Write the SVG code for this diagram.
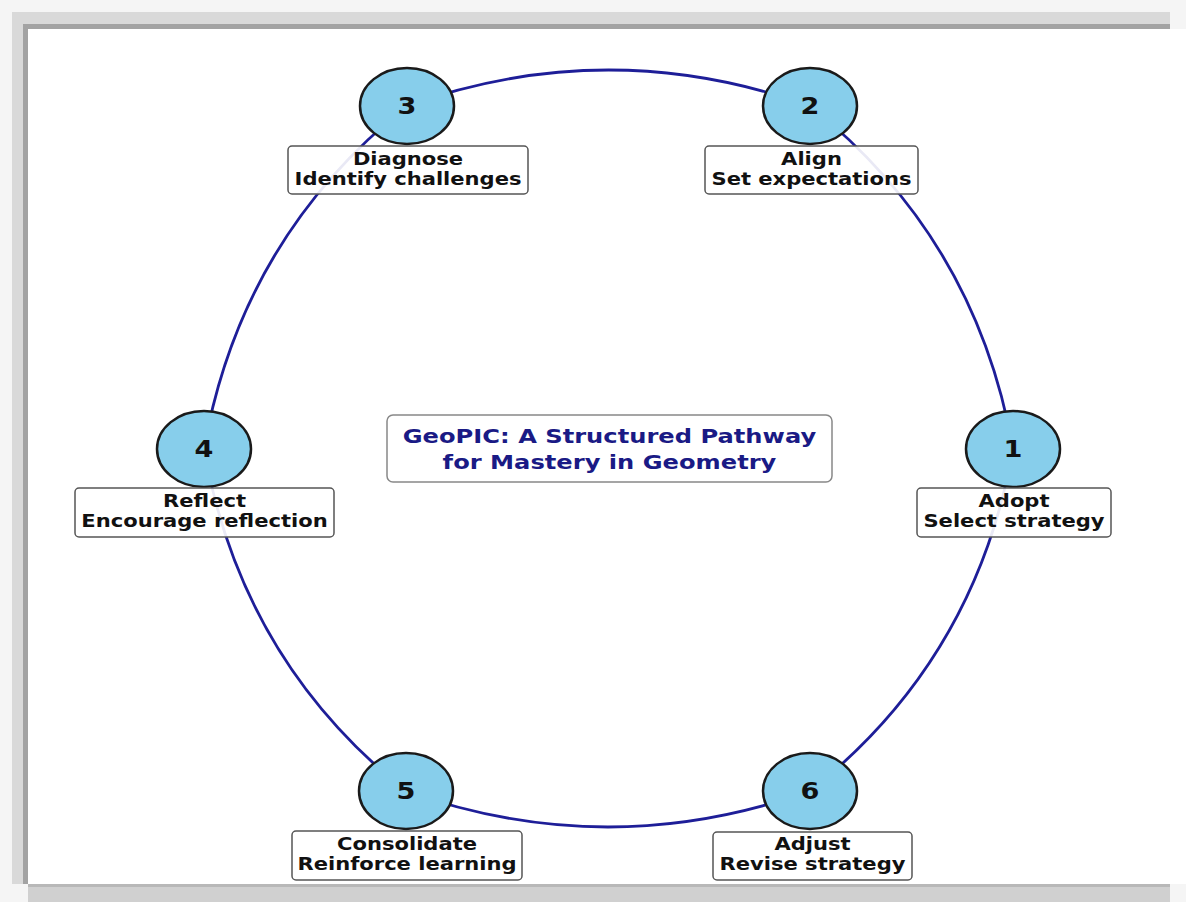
<svg xmlns="http://www.w3.org/2000/svg" width="1186" height="902" viewBox="0 0 1186 902">
<style>
.edge{fill:none;stroke:#1e1e98;stroke-width:2.8}
.node ellipse{fill:#87ceeb;stroke:#1a1a1a;stroke-width:2.5}
.num{font-family:"DejaVu Sans",sans-serif;font-weight:bold;font-size:23px;fill:#111;text-anchor:middle}
.lbox{fill:#fff;fill-opacity:0.9;stroke:#555;stroke-width:1.5}
.lbl{font-family:"DejaVu Sans",sans-serif;font-weight:bold;font-size:17px;fill:#111;text-anchor:middle}
.title{font-family:"DejaVu Sans",sans-serif;font-weight:bold;font-size:19.5px;fill:#1a1a85;text-anchor:middle}
</style>
<rect x="0" y="0" width="1186" height="902" fill="#f5f5f5"/>
<rect x="12" y="12" width="1158" height="16" fill="#d9d9d9"/>
<rect x="12" y="12" width="16" height="872" fill="#d9d9d9"/>
<rect x="28" y="884" width="1142" height="18" fill="#d0d0d0"/>
<rect x="24" y="24" width="1146" height="5" fill="#a3a3a3"/>
<rect x="23" y="24" width="5" height="860" fill="#a3a3a3"/>
<rect x="28" y="884" width="1142" height="3" fill="#b8b8b8"/>
<rect x="28" y="29" width="1158" height="855" fill="#ffffff"/>

<g id="connectors">
<path class="edge" d="M1013,449 Q976,238 810,106"/>
<path class="edge" d="M810,106 Q608.5,34 407,106"/>
<path class="edge" d="M407,106 Q241,238 204,449"/>
<path class="edge" d="M204,449 Q241,660 406,791"/>
<path class="edge" d="M406,791 Q608,863 810,791"/>
<path class="edge" d="M810,791 Q976,660 1013,449"/>
</g>

<g id="node1" class="node">
<ellipse cx="1013" cy="449" rx="47" ry="38"/>
<text class="num" transform="translate(1013 0) scale(1.18 1)" x="0" y="457">1</text>
<rect class="lbox" x="917" y="488" width="194" height="49" rx="4"/>
<text class="lbl" transform="translate(1014 0) scale(1.24 1)" x="0" y="507">Adopt</text>
<text class="lbl" transform="translate(1014 0) scale(1.24 1)" x="0" y="527">Select strategy</text>
</g>
<g id="node2" class="node">
<ellipse cx="810" cy="106" rx="47" ry="38"/>
<text class="num" transform="translate(810 0) scale(1.18 1)" x="0" y="114">2</text>
<rect class="lbox" x="705" y="146" width="213" height="48" rx="4"/>
<text class="lbl" transform="translate(811.5 0) scale(1.24 1)" x="0" y="165">Align</text>
<text class="lbl" transform="translate(811.5 0) scale(1.24 1)" x="0" y="185">Set expectations</text>
</g>
<g id="node3" class="node">
<ellipse cx="407" cy="106" rx="47" ry="38"/>
<text class="num" transform="translate(407 0) scale(1.18 1)" x="0" y="114">3</text>
<rect class="lbox" x="288" y="146" width="240" height="48" rx="4"/>
<text class="lbl" transform="translate(408 0) scale(1.24 1)" x="0" y="165">Diagnose</text>
<text class="lbl" transform="translate(408 0) scale(1.24 1)" x="0" y="185">Identify challenges</text>
</g>
<g id="node4" class="node">
<ellipse cx="204" cy="449" rx="47" ry="38"/>
<text class="num" transform="translate(204 0) scale(1.18 1)" x="0" y="457">4</text>
<rect class="lbox" x="75" y="488" width="259" height="49" rx="4"/>
<text class="lbl" transform="translate(204.5 0) scale(1.24 1)" x="0" y="507">Reflect</text>
<text class="lbl" transform="translate(204.5 0) scale(1.24 1)" x="0" y="527">Encourage reflection</text>
</g>
<g id="node5" class="node">
<ellipse cx="406" cy="791" rx="47" ry="38"/>
<text class="num" transform="translate(406 0) scale(1.18 1)" x="0" y="799">5</text>
<rect class="lbox" x="292" y="831" width="230" height="49" rx="4"/>
<text class="lbl" transform="translate(407 0) scale(1.24 1)" x="0" y="850">Consolidate</text>
<text class="lbl" transform="translate(407 0) scale(1.24 1)" x="0" y="870">Reinforce learning</text>
</g>
<g id="node6" class="node">
<ellipse cx="810" cy="791" rx="47" ry="38"/>
<text class="num" transform="translate(810 0) scale(1.18 1)" x="0" y="799">6</text>
<rect class="lbox" x="713" y="832" width="199" height="48" rx="4"/>
<text class="lbl" transform="translate(812.5 0) scale(1.24 1)" x="0" y="850">Adjust</text>
<text class="lbl" transform="translate(812.5 0) scale(1.24 1)" x="0" y="870">Revise strategy</text>
</g>
<g id="title">
<rect x="387" y="415" width="445" height="67" rx="6" fill="#fff" stroke="#888" stroke-width="1.5"/>
<text class="title" transform="translate(609.5 0) scale(1.24 1)" x="0" y="443">GeoPIC: A Structured Pathway</text>
<text class="title" transform="translate(609.5 0) scale(1.24 1)" x="0" y="469">for Mastery in Geometry</text>
</g>
</svg>
